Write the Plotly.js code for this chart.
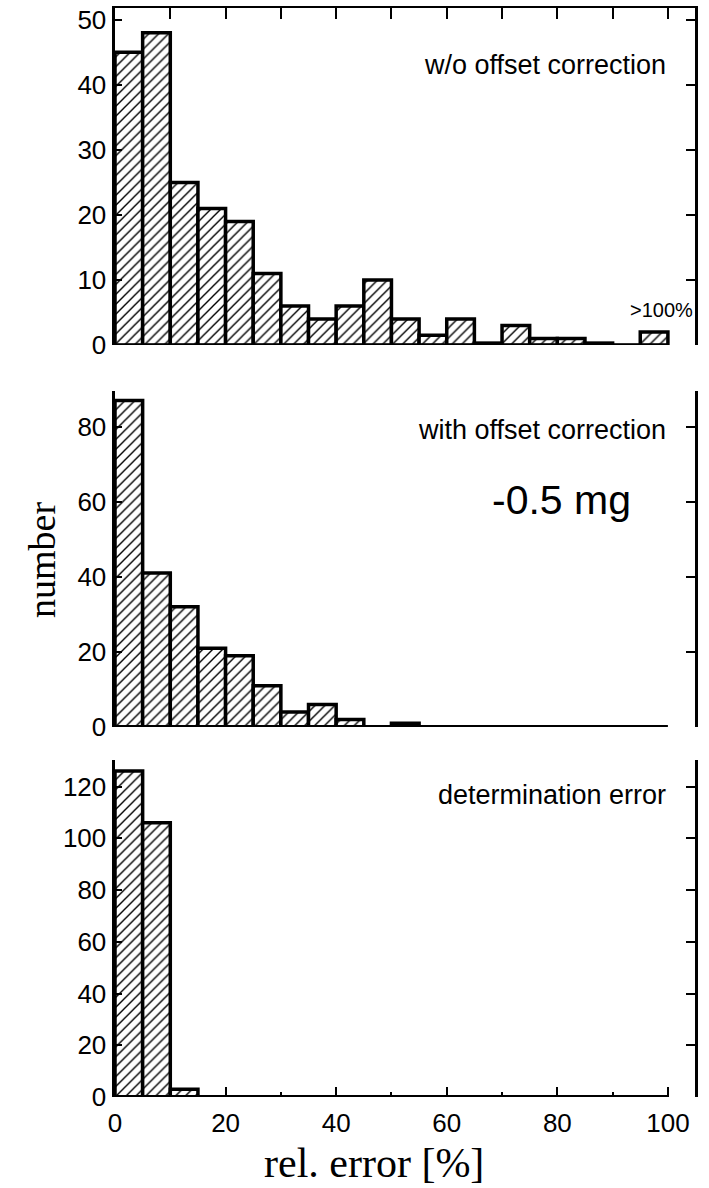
<!DOCTYPE html>
<html>
<head>
<meta charset="utf-8">
<script src="https://cdn.plot.ly/plotly-3.0.1.min.js"></script>
<style>html,body{margin:0;padding:0;background:#fff;}#chart{width:709px;height:1188px;}</style>
</head>
<body>
<div id="chart"></div>
<script>
// ---- data (bin left edges in %, counts) ----
var topBins = [0,5,10,15,20,25,30,35,40,45,50,55,60,65,70,75,80,85,90,95];
var topCounts = [45,48,25,21,19,11,6,4,6,10,4,1.5,4,0.3,3,1,1,0.3,0,2];
var midBins = [0,5,10,15,20,25,30,35,40,45,50];
var midCounts = [87,41,32,21,19,11,4,6,2,0,1];
var botBins = [0,5,10];
var botCounts = [126,106,3];
var binWidth = 5;
var xTicks = [0,20,40,60,80,100];
var panelLabels = ["w/o offset correction", "with offset correction", "determination error"];

var SANS = "Liberation Sans, Arial, sans-serif";
var SERIF = "Liberation Serif, Times New Roman, serif";

function barTrace(x, y, xa, ya) {
  return {
    type: 'bar', x: x, y: y, width: binWidth, offset: 0,
    xaxis: xa, yaxis: ya, hoverinfo: 'skip',
    marker: {
      color: 'white',
      line: {color: 'black', width: 3.5},
      pattern: {shape: '/', fgcolor: 'black', bgcolor: 'white', size: 7, solidity: 0.2, fillmode: 'replace'}
    }
  };
}
function dummy(xa, ya) {
  return {type: 'scatter', x: [], y: [], xaxis: xa, yaxis: ya, hoverinfo: 'skip', showlegend: false};
}

var data = [
  barTrace(botBins, botCounts, 'x', 'y'),
  barTrace(midBins, midCounts, 'x2', 'y2'),
  barTrace(topBins, topCounts, 'x3', 'y3'),
  dummy('x4', 'y3'),
  dummy('x', 'y4'),
  dummy('x2', 'y5'),
  dummy('x3', 'y6')
];

var XR = [0, 104.9];
var yrBot = [0, 130.1], yrMid = [0, 89.6], yrTop = [0, 51.8];
var dBot = [0, 0.309], dMid = [0.3398, 0.6486], dTop = [0.6905, 1];

function baseX(extra) {
  var a = {range: XR, autorange: false, showgrid: false, zeroline: false, showline: false,
           ticks: '', showticklabels: false, fixedrange: true};
  for (var k in extra) a[k] = extra[k];
  return a;
}
function leftY(dom, rng, dt, anchor) {
  return {domain: dom, range: rng, autorange: false, anchor: anchor, dtick: dt, tick0: 0,
          ticks: 'inside', ticklen: 7, tickwidth: 2, tickcolor: 'black',
          showline: true, linewidth: 3.5, linecolor: 'black',
          showgrid: false, zeroline: false, fixedrange: true,
          tickfont: {family: SANS, size: 26, color: 'black'}};
}
function rightY(rng, dt, over, anchor) {
  return {range: rng, autorange: false, overlaying: over, side: 'right', anchor: anchor,
          dtick: dt, tick0: 0, ticks: 'inside', ticklen: 9, tickwidth: 2, tickcolor: 'black',
          showline: true, linewidth: 2.5, linecolor: 'black', showticklabels: false,
          showgrid: false, zeroline: false, fixedrange: true};
}

var layout = {
  width: 709, height: 1188,
  margin: {l: 115, r: 14, t: 8, b: 91},
  paper_bgcolor: 'white', plot_bgcolor: 'white',
  showlegend: false, bargap: 0, barmode: 'overlay',
  font: {family: SANS, size: 26, color: 'black'},
  xaxis: baseX({anchor: 'y', domain: [0, 1], tickvals: xTicks, ticktext: xTicks.map(String),
                ticks: 'inside', ticklen: 10, tickwidth: 2, tickcolor: 'black', showticklabels: true,
                ticklabelstandoff: 8,
                minor: {dtick: 10, tick0: 0, ticks: 'inside', ticklen: 5, tickwidth: 2, tickcolor: 'black'},
                tickfont: {family: SANS, size: 26, color: 'black'}}),
  xaxis2: baseX({anchor: 'y2', domain: [0, 1]}),
  xaxis3: baseX({anchor: 'y3', domain: [0, 1]}),
  xaxis4: baseX({overlaying: 'x3', side: 'top', anchor: 'y3', dtick: 10, tick0: 0,
                 ticks: 'inside', ticklen: 11, tickwidth: 2, tickcolor: 'black',
                 showline: true, linewidth: 2.5, linecolor: 'black'}),
  yaxis: leftY(dBot, yrBot, 20, 'x'),
  yaxis2: leftY(dMid, yrMid, 20, 'x2'),
  yaxis3: leftY(dTop, yrTop, 10, 'x3'),
  yaxis4: rightY(yrBot, 20, 'y', 'x'),
  yaxis5: rightY(yrMid, 20, 'y2', 'x2'),
  yaxis6: rightY(yrTop, 10, 'y3', 'x3'),
  shapes: [
    {type: 'line', xref: 'x', yref: 'y', x0: 0, x1: 100, y0: 0, y1: 0, line: {color: 'black', width: 4}},
    {type: 'line', xref: 'x2', yref: 'y2', x0: 0, x1: 100, y0: 0, y1: 0, line: {color: 'black', width: 4}},
    {type: 'line', xref: 'x3', yref: 'y3', x0: 0, x1: 100, y0: 0, y1: 0, line: {color: 'black', width: 2.5}}
  ],
  annotations: [
    {xref: 'x3', yref: 'y3', x: 100, y: 43, xanchor: 'right', yanchor: 'middle', showarrow: false,
     text: panelLabels[0], font: {family: SANS, size: 27, color: 'black'}},
    {xref: 'x2', yref: 'y2', x: 100, y: 79.2, xanchor: 'right', yanchor: 'middle', showarrow: false,
     text: panelLabels[1], font: {family: SANS, size: 27, color: 'black'}},
    {xref: 'x2', yref: 'y2', x: 80.7, y: 60.5, xanchor: 'center', yanchor: 'middle', showarrow: false,
     text: '-0.5 mg', font: {family: SANS, size: 41, color: 'black'}},
    {xref: 'x', yref: 'y', x: 100, y: 116.9, xanchor: 'right', yanchor: 'middle', showarrow: false,
     text: panelLabels[2], font: {family: SANS, size: 27, color: 'black'}},
    {xref: 'x3', yref: 'y3', x: 104.9, y: 5.4, xanchor: 'right', yanchor: 'middle', showarrow: false,
     text: '&gt;100%', font: {family: SANS, size: 20, color: 'black'}},
    {xref: 'paper', yref: 'paper', x: -0.126, y: 0.493, xanchor: 'center', yanchor: 'middle', showarrow: false,
     textangle: -90, text: 'number', font: {family: SERIF, size: 38, color: 'black'}},
    {xref: 'paper', yref: 'paper', x: 0.4466, y: -0.0606, xanchor: 'center', yanchor: 'middle', showarrow: false,
     text: 'rel. error [%]', font: {family: SERIF, size: 42, color: 'black'}}
  ]
};

Plotly.newPlot('chart', data, layout, {staticPlot: true, displayModeBar: false});
</script>
</body>
</html>
